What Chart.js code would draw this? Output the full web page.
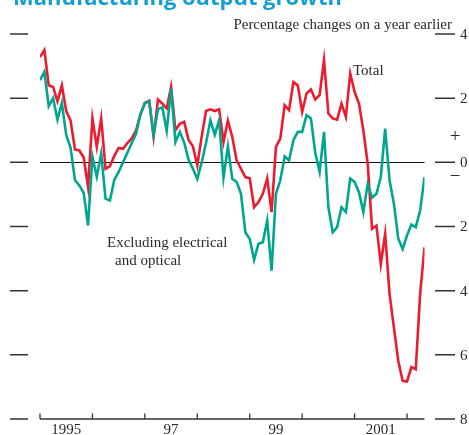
<!DOCTYPE html>
<html>
<head>
<meta charset="utf-8">
<script src="https://cdn.jsdelivr.net/npm/chart.js@4/dist/chart.umd.min.js"></script>
<style>
  html, body { margin: 0; padding: 0; background: #fff; overflow: hidden; }
  #wrap { width: 469px; height: 435px; position: relative; }
  canvas { display: block; }
</style>
</head>
<body>
<div id="wrap"><canvas id="c" width="469" height="435" style="width:469px;height:435px"></canvas></div>
<script>
// Monthly year-on-year % change, January 1995 onwards (index 0 = Jan 1995)
const totalGrowth = [
  3.28, 3.5, 2.4, 2.35, 1.9, 2.4, 1.6, 1.3, 0.4, 0.37, 0.15, -0.77,
  1.37, 0.48, 1.37, -0.2, -0.12, 0.2, 0.45, 0.42, 0.6, 0.75, 1.0, 1.5,
  1.85, 1.92, 0.79, 1.96, 1.83, 1.68, 2.35, 1.0, 1.2, 1.26, 0.7, 0.5,
  -0.1, 0.8, 1.6, 1.65, 1.6, 1.65, 0.63, 1.3, 0.8, 0.06, -0.2, -0.46,
  -0.5, -1.4, -1.24, -0.98, -0.5, -1.55, 0.48, 0.74, 1.78, 1.63, 2.5, 2.4,
  1.57, 2.15, 2.27, 1.96, 2.1, 3.19, 1.52, 1.37, 1.33, 1.83, 1.42, 2.77,
  2.2, 1.83, 1.0, -0.04, -2.07, -1.97, -3.17, -2.23, -4.1, -5.15, -6.19, -6.81,
  -6.83, -6.38, -6.45, -4.1, -2.65
];
const exElectricalOptical = [
  2.56, 2.82, 1.75, 2.0, 1.33, 1.85, 0.85, 0.45, -0.55, -0.72, -0.95, -1.97,
  0.17, -0.45, 0.27, -1.13, -1.19, -0.55, -0.3, 0.0, 0.3, 0.6, 0.9, 1.5,
  1.85, 1.9, 0.85, 1.65, 1.72, 0.98, 2.3, 0.63, 0.95, 0.62, 0.08, -0.2,
  -0.52, 0.0, 0.6, 1.31, 0.86, 1.31, -0.48, 0.5, -0.51, -0.61, -0.98, -2.18,
  -2.39, -3.04, -2.54, -2.49, -1.81, -3.38, -0.98, -0.56, 0.19, 0.06, 0.69, 0.95,
  0.95, 1.47, 1.37, 0.3, -0.3, 0.95, -1.4, -2.18, -2.02, -1.4, -1.55, -0.51,
  -0.61, -0.93, -1.55, -0.67, -1.1, -0.98, -0.46, 1.05, -0.56, -1.29, -2.38, -2.7,
  -2.28, -1.94, -2.02, -1.5, -0.46
];
// Year labels placed mid-year (month index -> label)
const yearLabelMonths = [6, 30, 54, 78];
const yearLabels = ['1995', '97', '99', '2001'];
// Year boundaries (month index of each January)
const yearStarts = [0, 12, 24, 36, 48, 60, 72, 84];
// Value-axis ticks; negatives are printed without a sign
const yTicks = [4, 2, 0, -2, -4, -6, -8];

const RED = '#ec1b2e';
const TEAL = '#00a78e';
const INK = '#2b2b2b';
const SERIF = '"Liberation Serif", "DejaVu Serif", serif';

const toXY = arr => arr.map((v, i) => ({ x: i, y: v }));

const axesAndText = {
  id: 'axesAndText',
  beforeDatasetsDraw(chart) {
    const { ctx, chartArea: a, scales: { y } } = chart;
    ctx.save();
    // zero line
    ctx.strokeStyle = '#111';
    ctx.lineWidth = 1;
    const y0 = Math.round(y.getPixelForValue(0)) + 0.5;
    ctx.beginPath();
    ctx.moveTo(a.left, y0);
    ctx.lineTo(a.right, y0);
    ctx.stroke();
    ctx.restore();
  },
  afterDatasetsDraw(chart) {
    const { ctx, chartArea: a, scales: { x, y } } = chart;
    ctx.save();
    ctx.strokeStyle = '#333';
    ctx.lineWidth = 1.5;
    // time axis line
    ctx.beginPath();
    ctx.moveTo(a.left, a.bottom);
    ctx.lineTo(a.right, a.bottom);
    ctx.stroke();
    // side tick marks
    yTicks.forEach(v => {
      const py = y.getPixelForValue(v);
      ctx.beginPath();
      ctx.moveTo(10, py); ctx.lineTo(28, py);
      ctx.moveTo(435, py); ctx.lineTo(455, py);
      ctx.stroke();
    });
    // inward year ticks on the time axis
    ctx.lineWidth = 1.3;
    yearStarts.forEach(m => {
      const px = x.getPixelForValue(m);
      ctx.beginPath();
      ctx.moveTo(px, a.bottom);
      ctx.lineTo(px, a.bottom - 5.5);
      ctx.stroke();
    });

    ctx.fillStyle = INK;
    ctx.font = '15px ' + SERIF;
    // value labels
    ctx.textAlign = 'left';
    ctx.textBaseline = 'middle';
    yTicks.forEach(v => ctx.fillText(String(Math.abs(v)), 460, y.getPixelForValue(v) + 1));
    // year labels
    ctx.textAlign = 'center';
    ctx.textBaseline = 'alphabetic';
    yearLabelMonths.forEach((m, k) => ctx.fillText(yearLabels[k], x.getPixelForValue(m), a.bottom + 15));

    // sign markers around zero
    ctx.font = '19px ' + SERIF;
    ctx.textBaseline = 'middle';
    ctx.fillText('+', 455, y.getPixelForValue(0) - 25);
    ctx.fillText('\u2212', 455, y.getPixelForValue(0) + 15);

    // title
    ctx.fillStyle = '#139fd6';
    let size = 22;
    ctx.font = 'bold ' + size + 'px "Open Sans", "DejaVu Sans", sans-serif';
    const w = ctx.measureText('Manufacturing output growth').width;
    size = size * 329 / w;
    ctx.font = 'bold ' + size.toFixed(2) + 'px "Open Sans", "DejaVu Sans", sans-serif';
    ctx.textAlign = 'left';
    ctx.textBaseline = 'alphabetic';
    ctx.fillText('Manufacturing output growth', 13, 5);

    // subtitle and series labels
    ctx.fillStyle = INK;
    ctx.font = '15px ' + SERIF;
    ctx.textAlign = 'right';
    ctx.fillText('Percentage changes on a year earlier', 452, 29);
    ctx.textAlign = 'left';
    ctx.fillText('Total', 353, 75);
    ctx.fillText('Excluding electrical', 107, 247);
    ctx.fillText('and optical', 115, 265);
    ctx.restore();
  }
};

new Chart(document.getElementById('c'), {
  type: 'line',
  data: {
    datasets: [
      { label: 'Excluding electrical and optical', data: toXY(exElectricalOptical),
        borderColor: TEAL, borderWidth: 2.6, pointRadius: 0, tension: 0 },
      { label: 'Total', data: toXY(totalGrowth),
        borderColor: RED, borderWidth: 2.6, pointRadius: 0, tension: 0 }
    ]
  },
  options: {
    responsive: false,
    animation: false,
    devicePixelRatio: 1,
    layout: { padding: { left: 40, top: 34, right: 44.5, bottom: 16 } },
    plugins: { legend: { display: false }, tooltip: { enabled: false }, title: { display: false } },
    scales: {
      x: { type: 'linear', display: false, min: 0, max: 88 },
      y: { display: false, min: -8, max: 4 }
    }
  },
  plugins: [axesAndText]
});
</script>
</body>
</html>
